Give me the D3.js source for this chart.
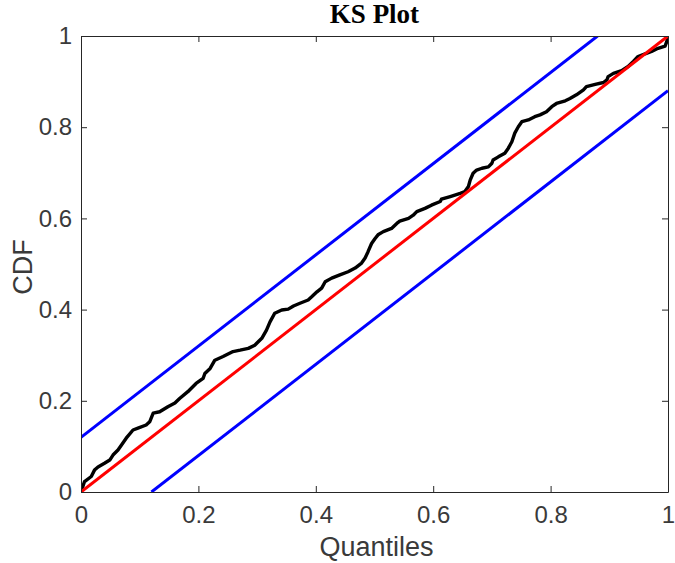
<!DOCTYPE html>
<html>
<head>
<meta charset="utf-8">
<script src="https://cdn.jsdelivr.net/npm/d3@7"></script>
<style>
  html, body { margin: 0; padding: 0; background: #fff; }
  svg { display: block; }
</style>
</head>
<body>
<svg id="chart" width="675" height="563"></svg>
<script>
// ---- Data ----
const quantiles = [0,0.006,0.0175,0.023,0.029,0.040,0.049,0.0545,0.063,0.069,0.077,0.0886,0.097,0.111,0.117,0.123,0.134,0.148,0.160,0.168,0.182,0.196,0.208,0.211,0.220,0.228,0.242,0.259,0.271,0.285,0.296,0.308,0.316,0.322,0.330,0.342,0.353,0.362,0.373,0.387,0.393,0.402,0.410,0.416,0.427,0.441,0.455,0.467,0.478,0.484,0.489,0.495,0.501,0.506,0.515,0.529,0.538,0.543,0.558,0.566,0.572,0.586,0.597,0.612,0.614,0.629,0.646,0.654,0.660,0.663,0.668,0.674,0.683,0.694,0.700,0.702,0.711,0.722,0.728,0.734,0.739,0.745,0.751,0.762,0.773,0.782,0.793,0.802,0.810,0.825,0.833,0.844,0.856,0.861,0.876,0.890,0.896,0.898,0.907,0.921,0.932,0.941,0.949,0.961,0.972,0.983,0.995,0.998,1.0];
const cdfValues = [0,0.023,0.034,0.048,0.055,0.063,0.070,0.081,0.092,0.103,0.118,0.136,0.140,0.147,0.154,0.173,0.176,0.187,0.195,0.205,0.220,0.238,0.249,0.260,0.271,0.289,0.297,0.308,0.311,0.315,0.322,0.337,0.355,0.373,0.392,0.399,0.401,0.408,0.414,0.421,0.428,0.439,0.447,0.461,0.469,0.476,0.483,0.491,0.502,0.513,0.527,0.545,0.556,0.564,0.571,0.578,0.589,0.594,0.600,0.607,0.615,0.622,0.629,0.637,0.642,0.648,0.655,0.659,0.670,0.684,0.699,0.706,0.710,0.713,0.721,0.728,0.735,0.743,0.754,0.768,0.787,0.801,0.812,0.816,0.823,0.827,0.834,0.845,0.852,0.858,0.863,0.871,0.882,0.889,0.894,0.898,0.904,0.911,0.918,0.924,0.933,0.944,0.955,0.961,0.966,0.973,0.978,0.988,0.996];
const idealX = [0, 1];
const idealY = [0, 1];
const upperX = [0, 0.88];
const upperY = [0.12, 1];
const lowerX = [0.12, 1];
const lowerY = [0, 0.88];
const tickValues = [0, 0.2, 0.4, 0.6, 0.8, 1];
const tickLabels = ["0", "0.2", "0.4", "0.6", "0.8", "1"];
const titleText = "KS Plot";
const xLabel = "Quantiles";
const yLabel = "CDF";

// ---- Layout ----
const pLeft = 81, pRight = 668, pTop = 36, pBottom = 492;
const svg = d3.select("#chart");
const x = d3.scaleLinear().domain([0, 1]).range([pLeft, pRight]);
const y = d3.scaleLinear().domain([0, 1]).range([pBottom, pTop]);
const axisColor = "#262626";
const textColor = "#3a3a3a";

svg.append("defs").append("clipPath").attr("id", "clip")
  .append("rect").attr("x", pLeft).attr("y", pTop)
  .attr("width", pRight - pLeft).attr("height", pBottom - pTop);

const line = d3.line().x(d => x(d[0])).y(d => y(d[1]));
const plot = svg.append("g").attr("clip-path", "url(#clip)");

function drawLine(xs, ys, color, w) {
  plot.append("path")
    .datum(xs.map((v, i) => [v, ys[i]]))
    .attr("d", line)
    .attr("fill", "none")
    .attr("stroke", color)
    .attr("stroke-width", w)
    .attr("stroke-linejoin", "round")
    .attr("stroke-linecap", "butt");
}
drawLine(quantiles, cdfValues, "#000000", 3.4);
drawLine(idealX, idealY, "#ff0000", 3);
drawLine(upperX, upperY, "#0000ff", 3);
drawLine(lowerX, lowerY, "#0000ff", 3);

// ---- Axes (box with inward ticks on all sides) ----
const tickLen = 6;
const fmt = v => tickLabels[tickValues.indexOf(v)];
function styleAxis(g) {
  g.select(".domain").attr("stroke", axisColor).attr("stroke-width", 1);
  g.selectAll(".tick line").attr("stroke", axisColor).attr("stroke-width", 1);
  g.selectAll(".tick text").attr("fill", textColor)
    .attr("font-family", "'Liberation Sans', Arial, Helvetica, sans-serif")
    .attr("font-size", 24);
}
const gxB = svg.append("g").attr("transform", `translate(0,${pBottom})`)
  .call(d3.axisBottom(x).tickValues(tickValues).tickFormat(fmt).tickSizeInner(-tickLen).tickSizeOuter(0).tickPadding(14));
styleAxis(gxB);
const gxT = svg.append("g").attr("transform", `translate(0,${pTop})`)
  .call(d3.axisTop(x).tickValues(tickValues).tickFormat("").tickSizeInner(-tickLen).tickSizeOuter(0));
styleAxis(gxT);
const gyL = svg.append("g").attr("transform", `translate(${pLeft},0)`)
  .call(d3.axisLeft(y).tickValues(tickValues).tickFormat(fmt).tickSizeInner(-tickLen).tickSizeOuter(0).tickPadding(9));
styleAxis(gyL);
const gyR = svg.append("g").attr("transform", `translate(${pRight},0)`)
  .call(d3.axisRight(y).tickValues(tickValues).tickFormat("").tickSizeInner(-tickLen).tickSizeOuter(0));
styleAxis(gyR);

// ---- Labels ----
svg.append("text")
  .attr("x", (pLeft + pRight) / 2).attr("y", 23)
  .attr("text-anchor", "middle")
  .attr("font-family", "'Liberation Serif', 'Times New Roman', serif")
  .attr("font-weight", "bold").attr("font-size", 27)
  .attr("fill", "#000").text(titleText);

svg.append("text")
  .attr("x", (pLeft + pRight) / 2 + 2).attr("y", 556)
  .attr("text-anchor", "middle")
  .attr("font-family", "'Liberation Sans', Arial, Helvetica, sans-serif")
  .attr("font-size", 27).attr("fill", textColor).text(xLabel);

svg.append("text")
  .attr("transform", `translate(32,${(pTop + pBottom) / 2 + 3}) rotate(-90)`)
  .attr("text-anchor", "middle")
  .attr("font-family", "'Liberation Sans', Arial, Helvetica, sans-serif")
  .attr("font-size", 27).attr("fill", textColor).text(yLabel);
</script>
</body>
</html>
